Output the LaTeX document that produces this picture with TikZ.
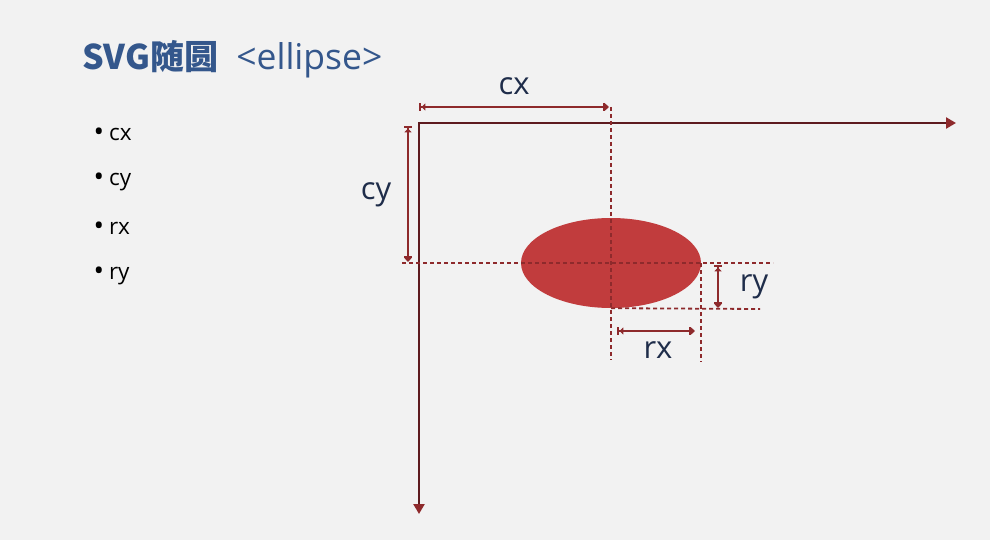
\documentclass[tikz,border=0pt]{standalone}
\usepackage{fontspec}
\setmainfont{Open Sans}
\newfontfamily\cjk{Noto Sans CJK SC}
\usetikzlibrary{arrows.meta,shapes.geometric}
\definecolor{bgcol}{HTML}{F2F2F2}
\definecolor{titleblue}{HTML}{34578C}
\definecolor{axiscol}{HTML}{5E1B1F}
\definecolor{dimcol}{HTML}{8E2A2C}
\definecolor{ellcol}{HTML}{C13C3D}
\definecolor{labelcol}{HTML}{1F2D4A}
\newcommand\blt{{\fontsize{28}{25}\selectfont\raisebox{-1pt}{•}}\hspace{5pt}}
\tikzset{
  axis/.style={draw=axiscol, line width=2.4pt,
    {Triangle[width=11pt,length=10pt,color=dimcol]}-{Triangle[width=11pt,length=10pt,color=dimcol]}},
  dim/.style={draw=dimcol, line width=2.4pt,
    {Bar[width=8pt,sep=0pt]Triangle[width=7pt,length=4pt]}-{Bar[width=8pt,sep=0pt]Triangle[width=7pt,length=4pt]}},
  guide/.style={draw=dimcol, line width=1.8pt, dash pattern=on 4pt off 3pt},
  dimlabel/.style={text=labelcol, font=\fontsize{31}{33}\selectfont},
  item/.style={anchor=west, text=black, font=\fontsize{22.5}{25}\selectfont},
}
\begin{document}
\begin{tikzpicture}[x=1pt,y=-1pt]
  \fill[bgcol] (0,0) rectangle (990,540);
  \useasboundingbox (0,0) rectangle (990,540);
  % title and list
  \node[anchor=west, text=titleblue, inner sep=0pt] (title) at (82,59)
    {{\fontsize{34}{36}\selectfont\cjk\bfseries SVG随圆}\hspace{18pt}{\fontsize{35.5}{36}\selectfont <ellipse>}};
  \node[item] (i1) at (90,135) {\blt cx};
  \node[item] (i2) at (90,182) {\blt cy};
  \node[item] (i3) at (90,229) {\blt rx};
  \node[item] (i4) at (90,276) {\blt ry};
  % axes
  \coordinate (o) at (419,123);
  \coordinate (xend) at (956,123);
  \coordinate (yend) at (419,514);
  \draw[axis] (xend) -- (o) -- (yend);
  % the ellipse
  \node[ellipse, fill=ellcol, minimum width=180pt, minimum height=90pt, inner sep=0pt] (ell) at (611,263) {};
  % guide lines
  \coordinate (g1a) at (611,107);
  \coordinate (g1b) at (611,360);
  \coordinate (g2a) at (402,263);
  \coordinate (g2b) at (773,263);
  \coordinate (g3b) at (760,309);
  \coordinate (g4a) at (701,263);
  \coordinate (g4b) at (701,362);
  \draw[guide] (g1a) -- (g1b);
  \draw[guide] (g2a) -- (g2b);
  \draw[guide] (ell.south) -- (g3b);
  \draw[guide] (g4a) -- (g4b);
  % dimensions
  \coordinate (cxa) at (419,107);
  \coordinate (cxb) at (609,107);
  \coordinate (cya) at (408,126);
  \coordinate (cyb) at (408,262);
  \coordinate (rya) at (718,265);
  \coordinate (ryb) at (718,308);
  \coordinate (rxa) at (617,331);
  \coordinate (rxb) at (695,331);
  \draw[dim] (cxa) -- (cxb);
  \draw[dim] (cya) -- (cyb);
  \draw[dim] (rya) -- (ryb);
  \draw[dim] (rxa) -- (rxb);
  \node[dimlabel] (lcx) at (514,86) {cx};
  \node[dimlabel] (lcy) at (376,195) {cy};
  \node[dimlabel] (lry) at (754,287) {ry};
  \node[dimlabel] (lrx) at (658,350) {rx};
\end{tikzpicture}
\end{document}
